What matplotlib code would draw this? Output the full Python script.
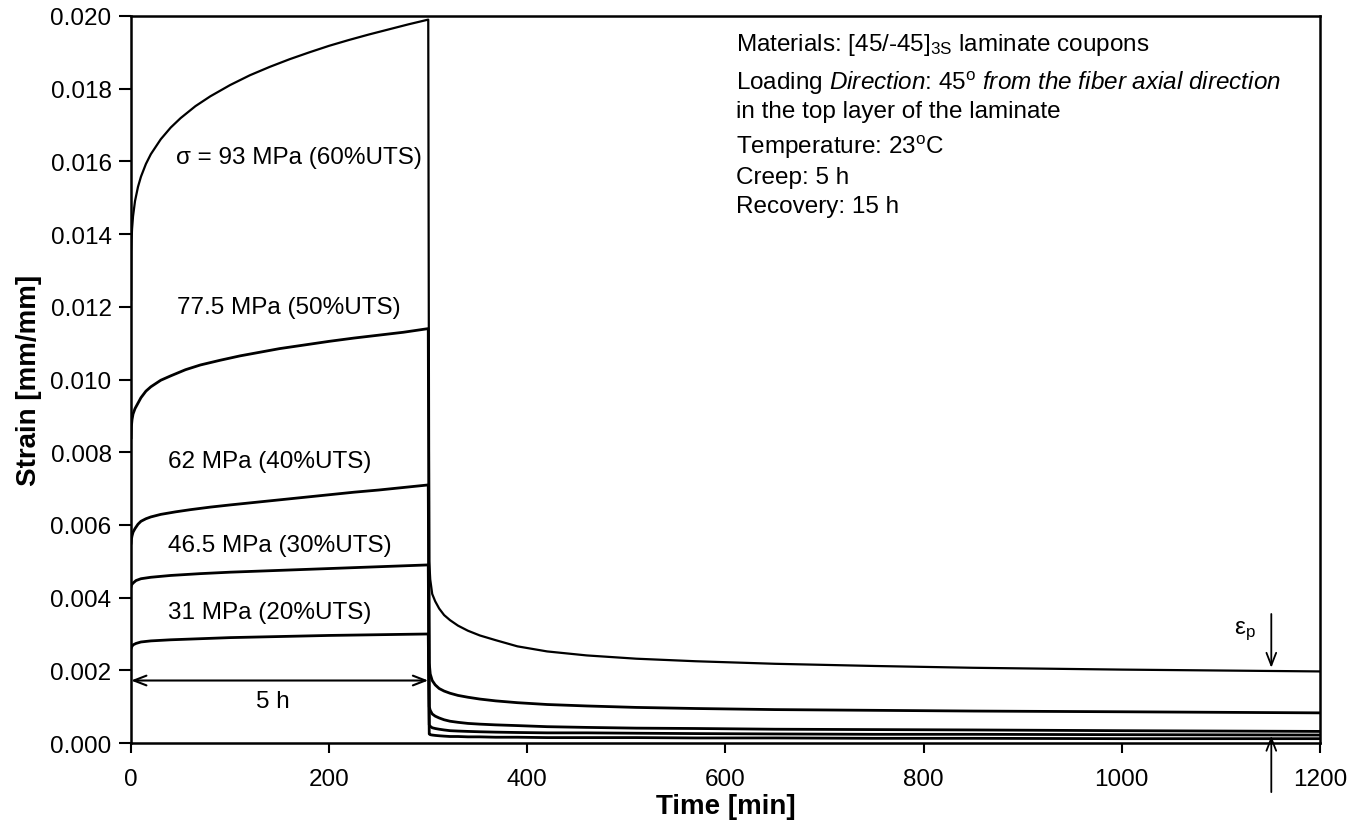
"""Creep and recovery of [45/-45]3S laminate coupons at five stress levels."""

import matplotlib

matplotlib.use("Agg")
import matplotlib.pyplot as plt
from matplotlib.ticker import FormatStrFormatter, MultipleLocator

plt.rcParams["font.family"] = ["Liberation Sans", "DejaVu Sans"]
plt.rcParams["mathtext.fontset"] = "custom"
plt.rcParams["mathtext.rm"] = "Liberation Sans"
plt.rcParams["mathtext.it"] = "Liberation Sans:italic"

# creep phase (0-300 min)
creep_93_t = [0, 0.2, 0.5, 1, 2, 4, 7, 10, 15, 20, 30, 40, 50, 65, 80, 100, 120, 140,
              160, 180, 200, 220, 240, 260, 280, 300]
creep_93 = [0.0122, 0.01352, 0.01384, 0.01414, 0.01449, 0.01491, 0.0153, 0.01558,
            0.01593, 0.0162, 0.01661, 0.01693, 0.01719, 0.01752, 0.01779, 0.0181,
            0.01837, 0.0186, 0.01881, 0.019, 0.01918, 0.01934, 0.01949, 0.01963,
            0.01977, 0.0199]
creep_77_t = [0, 0.3, 1, 2, 4, 7, 10, 15, 20, 30, 40, 55, 70, 90, 110, 130, 150, 175,
              200, 225, 250, 275, 300]
creep_77 = [0.0084, 0.0087, 0.0089, 0.00905, 0.0092, 0.00935, 0.0095, 0.00968, 0.0098,
            0.00998, 0.0101, 0.01027, 0.0104, 0.01053, 0.01065, 0.01075, 0.01085,
            0.01095, 0.01105, 0.01114, 0.01122, 0.0113, 0.0114]
creep_62_t = [0, 0.3, 1, 2, 4, 7, 10, 15, 20, 30, 45, 60, 80, 100, 125, 150, 175, 200,
              225, 250, 275, 300]
creep_62 = [0.0055, 0.0056, 0.0057, 0.0058, 0.0059, 0.00602, 0.0061, 0.00617, 0.00622,
            0.00629, 0.00636, 0.00642, 0.00649, 0.00655, 0.00662, 0.00669, 0.00676,
            0.00683, 0.0069, 0.00696, 0.00703, 0.0071]
creep_46_t = [0, 0.5, 2, 5, 10, 20, 40, 70, 100, 150, 200, 250, 300]
creep_46 = [0.0043, 0.00435, 0.0044, 0.00447, 0.00452, 0.00456, 0.00461, 0.00466,
            0.0047, 0.00475, 0.0048, 0.00485, 0.0049]
creep_31_t = [0, 0.5, 2, 5, 10, 20, 40, 70, 100, 150, 200, 250, 300]
creep_31 = [0.0026, 0.00264, 0.0027, 0.00274, 0.00278, 0.00281, 0.00284, 0.00287,
            0.0029, 0.00293, 0.00296, 0.00298, 0.0030]

# recovery phase (300-1200 min)
rec_t = [301, 302, 304, 307, 311, 316, 322, 330, 340, 352, 368, 390, 420, 460, 510,
         570, 650, 750, 850, 1000, 1200]
rec_93 = [0.0050, 0.0045, 0.0041, 0.0039, 0.0037, 0.00352, 0.00338, 0.00323, 0.00309,
          0.00296, 0.00283, 0.00266, 0.00252, 0.00241, 0.00232, 0.00225, 0.00218,
          0.00212, 0.00207, 0.00202, 0.00197]
rec_77 = [0.0022, 0.0019, 0.00172, 0.0016, 0.0015, 0.00143, 0.00137, 0.00131, 0.00126,
          0.00121, 0.00116, 0.00111, 0.00106, 0.00102, 0.00098, 0.00095, 0.00092,
          0.0009, 0.00088, 0.00086, 0.00083]
rec_62 = [0.0010, 0.0009, 0.0008, 0.00074, 0.00069, 0.00064, 0.0006, 0.00057, 0.00054,
          0.00052, 0.0005, 0.00048, 0.00045, 0.00043, 0.00041, 0.0004, 0.00038,
          0.00037, 0.00036, 0.00034, 0.00032]
rec_46 = [0.0005, 0.00046, 0.00042, 0.0004, 0.00038, 0.00036, 0.00034, 0.00033,
          0.00032, 0.00031, 0.0003, 0.00029, 0.00028, 0.00028, 0.00027, 0.00026,
          0.00025, 0.00024, 0.00024, 0.00023, 0.00022]
rec_31 = [0.00025, 0.00023, 0.00022, 0.00021, 0.0002, 0.00019, 0.00018, 0.00018,
          0.00017, 0.00017, 0.00016, 0.00016, 0.00015, 0.00015, 0.00015, 0.00014,
          0.00014, 0.00013, 0.00013, 0.00012, 0.00012]

curves = [
    (creep_93_t, creep_93, rec_93, 1.6),
    (creep_77_t, creep_77, rec_77, 2.0),
    (creep_62_t, creep_62, rec_62, 2.0),
    (creep_46_t, creep_46, rec_46, 2.0),
    (creep_31_t, creep_31, rec_31, 2.0),
]
labels = ["σ = 93 MPa (60%UTS)", "77.5 MPa (50%UTS)", "62 MPa (40%UTS)",
          "46.5 MPa (30%UTS)", "31 MPa (20%UTS)"]
label_x = [45, 46, 37, 37, 37]
label_y = [0.01613, 0.0120, 0.00776, 0.00546, 0.0036]

info_lines = [
    r"Materials: [45/-45]$_{\mathrm{3S}}$ laminate coupons",
    r"Loading $\mathit{Direction}$: 45$^{\mathrm{o}}$ $\mathit{from\ the\ fiber\ axial\ direction}$",
    "in the top layer of the laminate",
    r"Temperature: 23$^{\mathrm{o}}$C",
    "Creep: 5 h",
    "Recovery: 15 h",
]
info_y = [0.01923, 0.01818, 0.01739, 0.01642, 0.01557, 0.01477]

fig = plt.figure(figsize=(13.68, 8.28), dpi=100)
ax = fig.add_axes([0.0958, 0.1014, 0.869, 0.8781])

for t_c, eps_c, eps_r, lw in curves:
    ax.plot(list(t_c) + rec_t, list(eps_c) + eps_r, color="k", lw=lw,
            solid_joinstyle="round")

for txt, x, y in zip(labels, label_x, label_y):
    ax.text(x, y, txt, fontsize=17.5, ha="left", va="center")

for txt, y in zip(info_lines, info_y):
    ax.text(611, y, txt, fontsize=17.5, ha="left", va="center")

# 5 h creep span
ax.annotate("", xy=(0, 0.00172), xytext=(300, 0.00172),
            arrowprops=dict(arrowstyle="<->,head_length=0.9,head_width=0.35",
                            lw=1.5, color="k", shrinkA=0, shrinkB=0))
ax.text(143, 0.00116, "5 h", fontsize=17.5, ha="center", va="center")

# permanent strain markers
ax.annotate("", xy=(1151, 0.00207), xytext=(1151, 0.00355),
            arrowprops=dict(arrowstyle="->,head_length=0.9,head_width=0.35",
                            lw=1.3, color="k", shrinkA=0, shrinkB=0))
ax.annotate("", xy=(1151, 0.0002), xytext=(1151, -0.00135),
            arrowprops=dict(arrowstyle="->,head_length=0.9,head_width=0.35",
                            lw=1.3, color="k", shrinkA=0, shrinkB=0),
            annotation_clip=False)
ax.text(1124, 0.00311, r"ε$_{\mathrm{p}}$", fontsize=17.5, ha="center", va="center")

ax.set_xlim(0, 1200)
ax.set_ylim(0, 0.020)
ax.xaxis.set_major_locator(MultipleLocator(200))
ax.yaxis.set_major_locator(MultipleLocator(0.002))
ax.yaxis.set_major_formatter(FormatStrFormatter("%.3f"))
ax.tick_params(axis="x", direction="out", length=7, width=1.5, pad=11, labelsize=17.5)
ax.tick_params(axis="y", direction="out", length=9, width=1.5, pad=5, labelsize=17.5)
for sp in ax.spines.values():
    sp.set_linewidth(1.8)

ax.set_xlabel("Time [min]", fontsize=20, fontweight="bold", labelpad=2)
ax.set_ylabel("Strain [mm/mm]", fontsize=20, fontweight="bold", labelpad=6)

fig.savefig("out.png", dpi=100)
plt.close(fig)
